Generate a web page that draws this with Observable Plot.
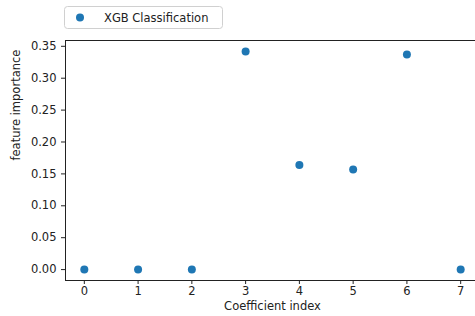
<!DOCTYPE html>
<html><head><meta charset="utf-8">
<script src="https://cdn.jsdelivr.net/npm/d3@7"></script>
<script src="https://cdn.jsdelivr.net/npm/@observablehq/plot@0.6"></script>
<style>
html,body{margin:0;padding:0;overflow:hidden;background:#fff}
svg{display:block}
</style>
</head><body><div id="chart"></div>
<script>
const coefficientIndex = [0, 1, 2, 3, 4, 5, 6, 7];
const importance = [0, 0, 0, 0.342, 0.164, 0.157, 0.337, 0];
const xTicks = [0, 1, 2, 3, 4, 5, 6, 7];
const yTicks = [0, 0.05, 0.10, 0.15, 0.20, 0.25, 0.30, 0.35];
const seriesName = "XGB Classification";
const xLabel = "Coefficient index";
const yLabel = "feature importance";
const dotColor = "#1f77b4";

const data = coefficientIndex.map((x, i) => ({x, y: importance[i]}));

const chart = Plot.plot({
  width: 475, height: 316,
  marginLeft: 65, marginRight: -4, marginTop: 40, marginBottom: 36,
  style: {fontFamily: "DejaVu Sans", fontSize: "11.5px", color: "#222", background: "#fff", overflow: "hidden"},
  x: {domain: [-0.35, 7.35]},
  y: {domain: [-0.0171, 0.3591]},
  marks: [
    Plot.axisX({ticks: xTicks, tickSize: 4, tickPadding: 2, label: null, tickFormat: d3.format("d")}),
    Plot.axisY({ticks: yTicks, tickSize: 4, tickPadding: 5, label: null, tickFormat: d3.format(".2f")}),
    Plot.frame({stroke: "#222", strokeWidth: 1}),
    Plot.dot(data, {x: "x", y: "y", r: 4, fill: dotColor, stroke: null}),
    Plot.text([xLabel], {frameAnchor: "bottom", dy: 29, text: d => d, fontSize: 11.5, fill: "#222"}),
    Plot.text([yLabel], {frameAnchor: "left", dx: -49, rotate: -90, text: d => d, fontSize: 11.5, fill: "#222"})
  ]
});
document.getElementById("chart").appendChild(chart);

// legend box above the axes
const svg = d3.select(chart.tagName.toLowerCase() === "svg" ? chart : chart.querySelector("svg"));
const lg = svg.append("g").attr("class", "legend");
lg.append("rect").attr("x", 64.5).attr("y", 6.5).attr("width", 158).attr("height", 22)
  .attr("rx", 3).attr("fill", "#fff").attr("stroke", "#d0d0d0");
lg.append("circle").attr("cx", 80).attr("cy", 17.5).attr("r", 4).attr("fill", dotColor);
lg.append("text").attr("x", 104).attr("y", 17.5).attr("dy", "0.35em")
  .attr("text-anchor", "start")
  .attr("font-family", "DejaVu Sans").attr("font-size", 11.5).attr("fill", "#222").text(seriesName);
</script>
</body></html>
